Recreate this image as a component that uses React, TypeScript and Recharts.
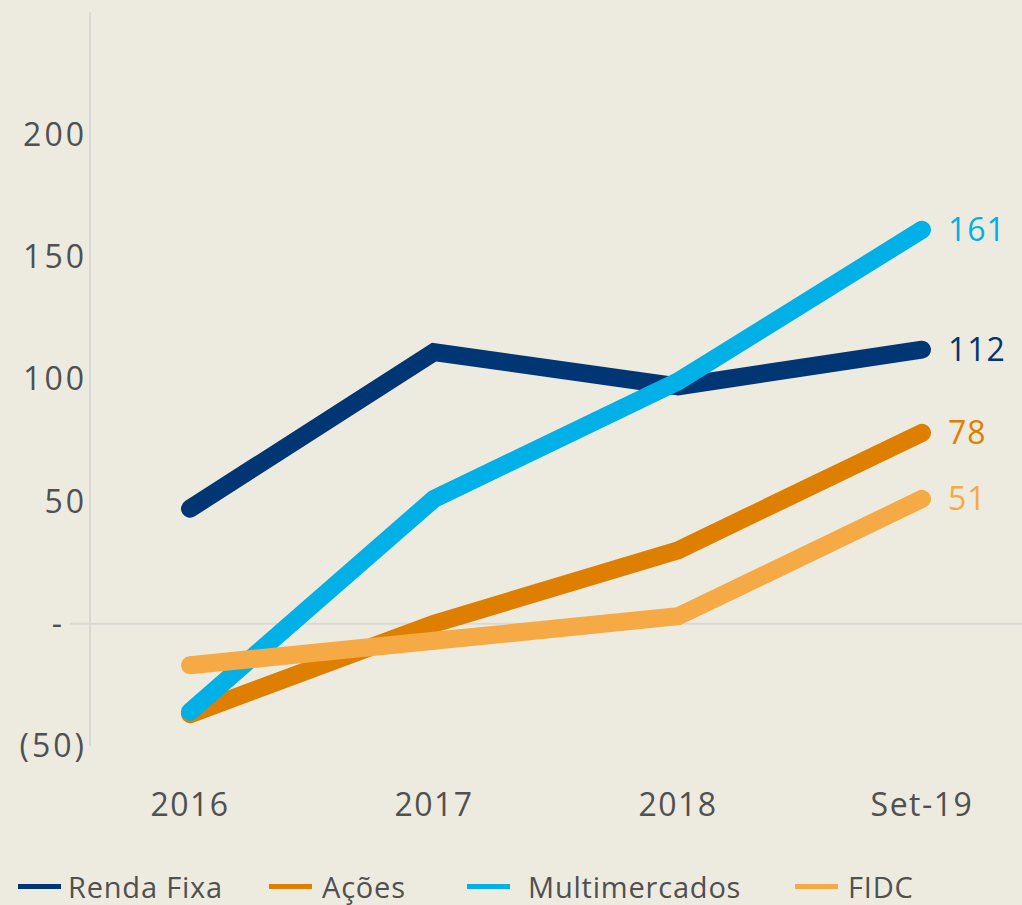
import { LineChart, Line, XAxis, YAxis, ReferenceLine, Legend, LabelList } from "recharts";

// categories and series values
const periods = ["2016", "2017", "2018", "Set-19"];
const rendaFixa = [47, 111, 97, 112];
const acoes = [-37, 0, 30, 78];
const multimercados = [-36, 51, 99, 161];
const fidc = [-17, -7, 3, 51];
const yTicks = [-50, 0, 50, 100, 150, 200];

const data = periods.map((p, i) => ({
  period: p,
  rendaFixa: rendaFixa[i],
  acoes: acoes[i],
  multimercados: multimercados[i],
  fidc: fidc[i],
}));

const series = [
  { key: "rendaFixa", name: "Renda Fixa", color: "#003673" },
  { key: "acoes", name: "Ações", color: "#DE7F00" },
  { key: "multimercados", name: "Multimercados", color: "#00B0E6" },
  { key: "fidc", name: "FIDC", color: "#F5AA45" },
];

const FONT = "'Open Sans', sans-serif";
const TEXT = "#505050";
const GRID = "#d9d8d4";

// y tick: 0 shows "-" with a short stub of the zero line, negatives in parentheses
function YTick({ x, y, payload }: any) {
  const v = payload.value;
  if (v === 0) {
    return (
      <g>
        <text x={x - 28} y={y} dy="0.35em" textAnchor="end" fill={TEXT} fontSize={32} fontFamily={FONT}>
          -
        </text>
        <line x1={x - 20} x2={x} y1={y} y2={y} stroke={GRID} strokeWidth={2} />
      </g>
    );
  }
  const label = v < 0 ? `(${Math.abs(v)})` : String(v);
  return (
    <text x={x - 3} y={y} dy="0.35em" textAnchor="end" fill={TEXT} fontSize={32} fontFamily={FONT} letterSpacing={3}>
      {label}
    </text>
  );
}

function XTick({ x, y, payload }: any) {
  return (
    <text x={x} y={y + 70} textAnchor="middle" fill={TEXT} fontSize={32} fontFamily={FONT} letterSpacing={1.5}>
      {payload.value}
    </text>
  );
}

// value label only at the last point
const endLabel = (color: string) => (props: any) => {
  const { x, y, value, index } = props;
  if (index !== periods.length - 1) return null;
  return (
    <text x={x + 26} y={y} dy="0.35em" fill={color} fontSize={32} fontFamily={FONT} letterSpacing={1}>
      {value}
    </text>
  );
};

function LegendContent() {
  const widths = [251, 198, 328, 150];
  return (
    <div
      style={{
        display: "flex",
        alignItems: "center",
        height: 40,
        paddingLeft: 18,
        paddingTop: 4,
        boxSizing: "border-box",
        fontFamily: FONT,
        lineHeight: 1.1,
      }}
    >
      {series.map((s, i) => (
        <div key={s.key} style={{ display: "flex", alignItems: "center", width: widths[i] }}>
          <span style={{ display: "inline-block", width: 43, height: 5, background: s.color, marginRight: 7 }} />
          <span style={{ fontSize: 29, letterSpacing: 0.8, color: TEXT, marginLeft: i === 2 ? 11 : i > 0 ? 3 : 0 }}>{s.name}</span>
        </div>
      ))}
    </div>
  );
}

export default function App() {
  return (
    <div
      style={{
        position: "absolute",
        left: 0,
        top: 0,
        width: 1022,
        height: 905,
        background: "#EDEBE0",
        overflow: "hidden",
      }}
    >
      <LineChart width={1022} height={905} data={data} margin={{ top: 12, right: 0, bottom: 0, left: 0 }}>
        <XAxis
          dataKey="period"
          axisLine={false}
          tickLine={false}
          tickSize={0}
          tickMargin={0}
          height={119}
          padding={{ left: 100, right: 100 }}
          tick={<XTick />}
          interval={0}
        />
        <YAxis
          domain={[-50, 250]}
          ticks={yTicks}
          width={90}
          axisLine={{ stroke: GRID, strokeWidth: 2 }}
          tickLine={false}
          tickSize={0}
          tickMargin={0}
          tick={<YTick />}
          interval={0}
        />
        <ReferenceLine y={0} stroke={GRID} strokeWidth={2} />
        {series.map((s) => (
          <Line
            key={s.key}
            dataKey={s.key}
            name={s.name}
            stroke={s.color}
            strokeWidth={18}
            strokeLinecap="round"
            strokeLinejoin="miter"
            dot={false}
            activeDot={false}
            isAnimationActive={false}
          >
            <LabelList dataKey={s.key} content={endLabel(s.color)} />
          </Line>
        ))}
        <Legend verticalAlign="bottom" align="left" content={<LegendContent />} />
      </LineChart>
    </div>
  );
}
